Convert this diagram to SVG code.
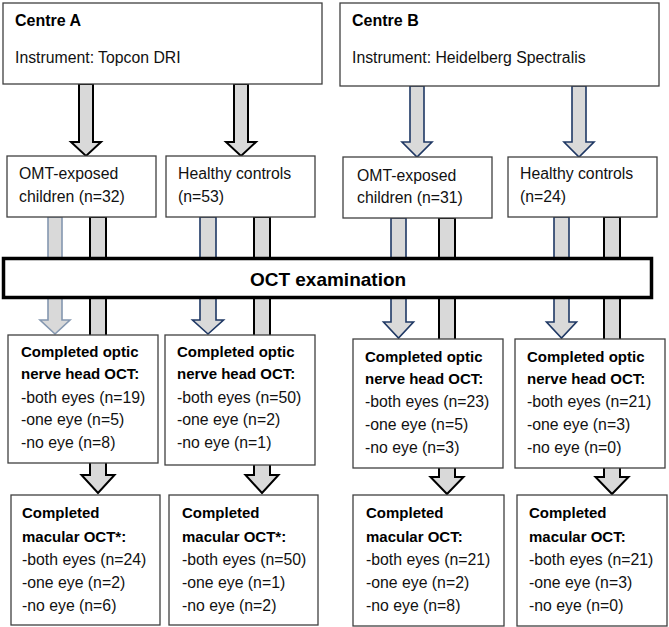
<svg xmlns="http://www.w3.org/2000/svg" width="669" height="627" viewBox="0 0 669 627">
<style>
.box{fill:#fff;stroke:#404040;stroke-width:1.3}
.bar{fill:#fff;stroke:#000;stroke-width:3.5}
.t{font-family:"Liberation Sans",Arial,sans-serif;font-size:15.8px;fill:#111}
.b{font-family:"Liberation Sans",Arial,sans-serif;font-size:15px;font-weight:bold;fill:#000}
.h{font-family:"Liberation Sans",Arial,sans-serif;font-size:16px;font-weight:bold;fill:#000}
.big{font-family:"Liberation Sans",Arial,sans-serif;font-size:19px;font-weight:bold;fill:#000}
.ak{fill:#d9d9d9;stroke:#000;stroke-width:2;stroke-linejoin:miter}
.an{fill:#d9d9d9;stroke:#1f3864;stroke-width:1.6}
.al{fill:#d9d9d9;stroke:#8497b0;stroke-width:1.6}
</style>
<g id="connectors">
<polygon class="ak" points="79,84 93,84 93,142 101,142 86,156 71,142 79,142"/>
<polygon class="ak" points="234,84 248,84 248,142 256,142 241,156 226,142 234,142"/>
<polygon class="an" points="410,86 424,86 424,142 432,142 417,157 402,142 410,142"/>
<polygon class="an" points="572,86 586,86 586,142 594,142 579,157 564,142 572,142"/>
<polygon class="al" points="48,217 62,217 62,320 70,320 55,334 40,320 48,320"/>
<polygon class="ak" points="90,217 106,217 106,475 114.5,475 98,493 81.5,475 90,475"/>
<polygon class="an" points="200,217 216,217 216,320 223.5,320 208,334 192.5,320 200,320"/>
<polygon class="ak" points="254,217 270,217 270,475 278.5,475 262,493 245.5,475 254,475"/>
<polygon class="an" points="391,218 406,218 406,322 413.5,322 398.5,338 383.5,322 391,322"/>
<polygon class="ak" points="439,218 455,218 455,477 463.5,477 447,494 430.5,477 439,477"/>
<polygon class="an" points="554,217 569,217 569,322 576.5,322 561.5,338 546.5,322 554,322"/>
<polygon class="ak" points="604,217 620,217 620,477 628.5,477 612,494 595.5,477 604,477"/>
</g>
<g id="centreA">
<rect class="box" x="3" y="3" width="319" height="81"/>
<text class="h" x="15" y="26">Centre A</text>
<text class="t" x="15" y="63">Instrument: Topcon DRI</text>
</g>
<g id="centreB">
<rect class="box" x="340" y="3" width="319" height="83"/>
<text class="h" x="352" y="26">Centre B</text>
<text class="t" x="352" y="63">Instrument: Heidelberg Spectralis</text>
</g>
<g id="a-omt">
<rect class="box" x="7" y="156" width="149" height="61"/>
<text class="t" x="19" y="179">OMT-exposed</text>
<text class="t" x="19" y="202">children (n=32)</text>
</g>
<g id="a-healthy">
<rect class="box" x="166" y="156" width="149" height="61"/>
<text class="t" x="178" y="179">Healthy controls</text>
<text class="t" x="178" y="202">(n=53)</text>
</g>
<g id="b-omt">
<rect class="box" x="343" y="157" width="149" height="61"/>
<text class="t" x="357" y="181">OMT-exposed</text>
<text class="t" x="357" y="203">children (n=31)</text>
</g>
<g id="b-healthy">
<rect class="box" x="508" y="157" width="149" height="60"/>
<text class="t" x="520" y="179">Healthy controls</text>
<text class="t" x="520" y="202">(n=24)</text>
</g>
<g id="oct">
<rect class="bar" x="3.5" y="258.5" width="648" height="39"/>
<text class="big" x="328" y="286" text-anchor="middle">OCT examination</text>
</g>
<g id="a-omt-onh">
<rect class="box" x="8" y="335" width="150" height="128"/>
<text class="b" x="21" y="357">Completed optic</text>
<text class="b" x="21" y="379">nerve head OCT:</text>
<text class="t" x="21" y="403">-both eyes (n=19)</text>
<text class="t" x="21" y="425">-one eye (n=5)</text>
<text class="t" x="21" y="448">-no eye (n=8)</text>
</g>
<g id="a-healthy-onh">
<rect class="box" x="165" y="335" width="150" height="130"/>
<text class="b" x="177" y="357">Completed optic</text>
<text class="b" x="177" y="379">nerve head OCT:</text>
<text class="t" x="177" y="403">-both eyes (n=50)</text>
<text class="t" x="177" y="425">-one eye (n=2)</text>
<text class="t" x="177" y="448">-no eye (n=1)</text>
</g>
<g id="b-omt-onh">
<rect class="box" x="353" y="339" width="150" height="129"/>
<text class="b" x="365" y="362">Completed optic</text>
<text class="b" x="365" y="384">nerve head OCT:</text>
<text class="t" x="365" y="407">-both eyes (n=23)</text>
<text class="t" x="365" y="430">-one eye (n=5)</text>
<text class="t" x="365" y="453">-no eye (n=3)</text>
</g>
<g id="b-healthy-onh">
<rect class="box" x="515" y="339" width="150" height="129"/>
<text class="b" x="527" y="362">Completed optic</text>
<text class="b" x="527" y="384">nerve head OCT:</text>
<text class="t" x="527" y="407">-both eyes (n=21)</text>
<text class="t" x="527" y="430">-one eye (n=3)</text>
<text class="t" x="527" y="453">-no eye (n=0)</text>
</g>
<g id="a-omt-mac">
<rect class="box" x="11" y="495" width="149" height="130"/>
<text class="b" x="22" y="518">Completed</text>
<text class="b" x="22" y="542">macular OCT*:</text>
<text class="t" x="22" y="565">-both eyes (n=24)</text>
<text class="t" x="22" y="588">-one eye (n=2)</text>
<text class="t" x="22" y="611">-no eye (n=6)</text>
</g>
<g id="a-healthy-mac">
<rect class="box" x="169" y="495" width="149" height="130"/>
<text class="b" x="182" y="518">Completed</text>
<text class="b" x="182" y="542">macular OCT*:</text>
<text class="t" x="182" y="565">-both eyes (n=50)</text>
<text class="t" x="182" y="588">-one eye (n=1)</text>
<text class="t" x="182" y="611">-no eye (n=2)</text>
</g>
<g id="b-omt-mac">
<rect class="box" x="353" y="495" width="151" height="131"/>
<text class="b" x="366" y="518">Completed</text>
<text class="b" x="366" y="542">macular OCT:</text>
<text class="t" x="366" y="565">-both eyes (n=21)</text>
<text class="t" x="366" y="588">-one eye (n=2)</text>
<text class="t" x="366" y="611">-no eye (n=8)</text>
</g>
<g id="b-healthy-mac">
<rect class="box" x="517" y="495" width="150" height="131"/>
<text class="b" x="529" y="518">Completed</text>
<text class="b" x="529" y="542">macular OCT:</text>
<text class="t" x="529" y="565">-both eyes (n=21)</text>
<text class="t" x="529" y="588">-one eye (n=3)</text>
<text class="t" x="529" y="611">-no eye (n=0)</text>
</g>
</svg>
